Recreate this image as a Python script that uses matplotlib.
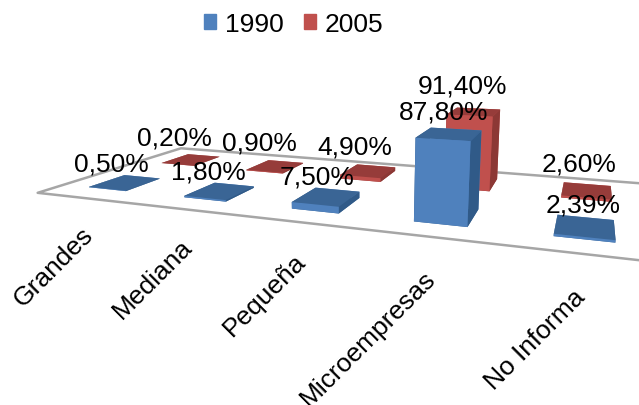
import matplotlib

matplotlib.use("Agg")
import matplotlib.pyplot as plt
from matplotlib.patches import Patch
from mpl_toolkits.mplot3d import proj3d
from mpl_toolkits.mplot3d.art3d import Poly3DCollection

plt.rcParams["font.family"] = ["Liberation Sans", "DejaVu Sans"]

categories = ["Grandes", "Mediana", "Pequeña", "Microempresas", "No Informa"]
values_1990 = [0.50, 1.80, 7.50, 87.80, 2.39]
values_2005 = [0.20, 0.90, 4.90, 91.40, 2.60]
labels_1990 = ["0,50%", "1,80%", "7,50%", "87,80%", "2,39%"]
labels_2005 = ["0,20%", "0,90%", "4,90%", "91,40%", "2,60%"]

BAR_DX = 0.4
BAR_DY = 0.45
FONT = 19

# top, front and side colours for each series
BLUE = ("#3A6595", "#4F81BD", "#305A88")
RED = ("#963C3A", "#C0504D", "#8C3835")


def draw_series(ax, values, row, shades, order):
    top, front, side = shades
    # bar3d face order: bottom, top, -y, +y, -x, +x
    faces = [top, top, front, front, side, side] * len(values)
    xs = [i + 0.5 - BAR_DX / 2 for i in range(len(values))]
    ys = [row + 0.5 - BAR_DY / 2] * len(values)
    return ax.bar3d(xs, ys, [0] * len(values), BAR_DX, BAR_DY, values,
                    color=faces, shade=False, zorder=order)


def draw_value_labels(ax, values, labels, row, shift, lift):
    for i, (val, lab) in enumerate(zip(values, labels)):
        ax.text(i + shift + 0.03 * i, row + 0.5, val + lift, lab, fontsize=FONT,
                ha="center", va="center", zorder=5)


fig = plt.figure(figsize=(6.39, 4.06), dpi=100)
ax = fig.add_axes([-0.442, -0.923, 1.925, 3.03], projection="3d",
                  computed_zorder=False)
ax.set_proj_type("persp", focal_length=0.1)
ax.view_init(elev=11, azim=-70)
ax.set_box_aspect((0.83, 0.36, 0.12), zoom=0.49)
ax.set_xlim(0, 5, view_margin=0)
ax.set_ylim(0, 2, view_margin=0)
ax.set_zlim(0, 100, view_margin=0)
ax.set_axis_off()

floor = Poly3DCollection([[(0, 0, 0), (5, 0, 0), (5, 2, 0), (0, 2, 0)]],
                         facecolor="white", edgecolor="#A6A6A6", linewidth=1.8,
                         zorder=1)
ax.add_collection3d(floor)

draw_series(ax, values_2005, 1, RED, 2)
draw_series(ax, values_1990, 0, BLUE, 3)

draw_value_labels(ax, values_2005, labels_2005, 1, 0.30, 32)
draw_value_labels(ax, values_1990, labels_1990, 0, 0.36, 23)

# Text3D drops the rotation, so the category names go in as 2D text at projected spots
proj = ax.get_proj()
for i, name in enumerate(categories):
    px, py, _ = proj3d.proj_transform(i + 0.45, 0, -30, proj)
    ax.text2D(px, py, name, transform=ax.transData, fontsize=FONT, rotation=45,
              ha="right", va="top", rotation_mode="anchor", zorder=5)

handles = [Patch(color=BLUE[1], label="1990"), Patch(color=RED[1], label="2005")]
fig.legend(handles=handles, loc="upper center", bbox_to_anchor=(0.46, 1.027), ncol=2,
           frameon=False, fontsize=FONT, handlelength=0.45, handleheight=0.55,
           handletextpad=0.35, columnspacing=0.75)

fig.savefig("out.png", dpi=100)
